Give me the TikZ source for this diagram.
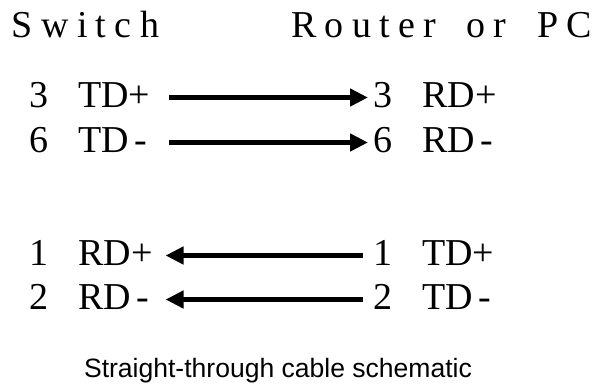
\documentclass[tikz,border=0pt]{standalone}
\usepackage{fontspec}
\setmainfont{Liberation Serif}
\newfontfamily\headfont[LetterSpace=22]{Liberation Serif}
\newfontfamily\capfont{Liberation Sans}
\usetikzlibrary{arrows.meta}
\newcommand{\pin}[2]{\makebox[36.75pt][l]{#1}#2}

\begin{document}
\begin{tikzpicture}[
  x=0.75pt, y=-0.75pt,
  head/.style={anchor=base west, inner sep=0pt, font=\headfont\fontsize{28.5}{34}\selectfont},
  port/.style={anchor=base west, inner sep=0pt, text height=18pt, text depth=3.75pt, font=\fontsize{28.5}{34}\selectfont},
  portL/.style={port, text width=105.75pt, align=left},
  wire/.style={line width=3.75pt, -{Triangle[length=13.5pt, width=12.75pt]}},
  caption/.style={anchor=base, inner sep=0pt, font=\capfont\fontsize{19.9}{24}\selectfont}
]
\useasboundingbox (0,0) rectangle (595,387);
\node[head] (sw) at (11.5,37) {Switch};
\node[head] (pc) at (291,37) {\makebox[131.25pt][l]{Router}\makebox[53.25pt][l]{or}PC};

\node[portL] (l3) at (29,107) {\pin{3}{TD+}};
\node[portL] (l6) at (29,152) {\pin{6}{TD\kern4pt-}};
\node[portL] (l1) at (29,265) {\pin{1}{RD+}};
\node[portL] (l2) at (29,309) {\pin{2}{RD\kern4pt-}};

\node[port] (r3) at (373,107) {\pin{3}{RD+}};
\node[port] (r6) at (373,152) {\pin{6}{RD\kern4pt-}};
\node[port] (r1) at (373,265) {\pin{1}{TD+}};
\node[port] (r2) at (373,309) {\pin{2}{TD\kern4pt-}};

\draw[wire, shorten <=-1.5pt, shorten >=3.75pt] (l3.east) -- (r3.west);
\draw[wire, shorten <=-1.5pt, shorten >=3.75pt] (l6.east) -- (r6.west);
\draw[wire, shorten <=7.5pt, shorten >=-3.75pt] (r1.west) -- (l1.east);
\draw[wire, shorten <=7.5pt, shorten >=-3.75pt] (r2.west) -- (l2.east);

\node[caption] (cap) at (278,377) {Straight-through cable schematic};
\end{tikzpicture}
\end{document}
